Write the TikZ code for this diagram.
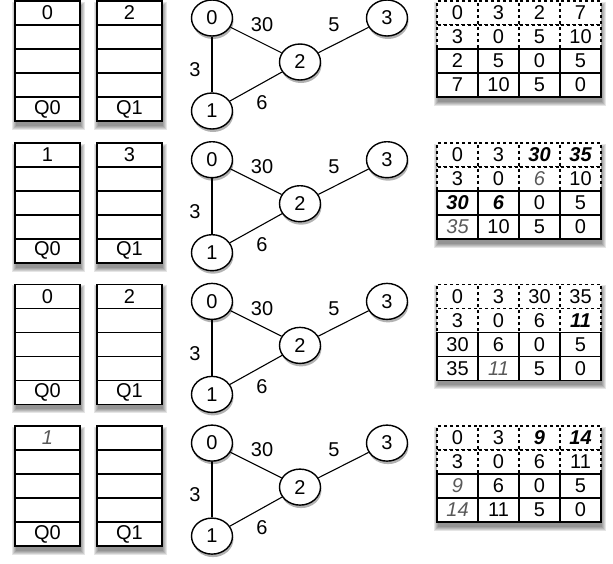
\documentclass[tikz,border=0pt]{standalone}
\usepackage{fontspec}
\setmainfont{Liberation Sans}
\usetikzlibrary{shapes.geometric,shadows}
\tikzset{
  x=1pt, y=-1pt,
  txt/.style={font=\fontsize{20pt}{20pt}\selectfont, inner sep=0pt},
  qcell/.style={txt, draw, line width=1.6pt, fill=white, minimum width=65pt, minimum height=24pt},
  mcell/.style={txt, draw, line width=1.6pt, fill=white, minimum width=41pt, minimum height=24pt},
  dcell/.style={mcell, dash pattern=on 3pt off 3pt},
  gnode/.style={txt, ellipse, draw, line width=1.4pt, fill=white, minimum width=41pt, minimum height=36pt,
    drop shadow={shadow xshift=1pt, shadow yshift=-3pt, fill=black, opacity=0.3}},
  edge/.style={line width=1.1pt},
  wl/.style={txt},
}
\newcommand\bi[1]{{\bfseries\itshape #1}}
\newcommand\gi[1]{{\color{black!65}\itshape #1}}
\newcommand\softshadow[4]{%
  \foreach \s in {0,1,2,3,4}{\fill[black,opacity=0.1] (#1-\s+1,#2-\s+5) rectangle (#3+\s+1,#4+\s+5);}}
\newcommand\mrow[8]{%
  \node[#4] (#1r#2c1) at (457.5,#3) {#5};
  \node[#4] (#1r#2c2) at (498.5,#3) {#6};
  \node[#4] (#1r#2c3) at (539.5,#3) {#7};
  \node[#4] (#1r#2c4) at (580.5,#3) {#8};}
\newcommand\queues[3]{%
  \softshadow{15}{1}{80}{121}
  \softshadow{97}{1}{162}{121}
  \node[qcell] (#1qa1) at (47.5,13) {#2};
  \node[qcell] (#1qa2) at (47.5,37) {};
  \node[qcell] (#1qa3) at (47.5,61) {};
  \node[qcell] (#1qa4) at (47.5,85) {};
  \node[qcell] (#1qa5) at (47.5,109) {Q0};
  \node[qcell] (#1qb1) at (129.5,13) {#3};
  \node[qcell] (#1qb2) at (129.5,37) {};
  \node[qcell] (#1qb3) at (129.5,61) {};
  \node[qcell] (#1qb4) at (129.5,85) {};
  \node[qcell] (#1qb5) at (129.5,109) {Q1};}
\newcommand\graphpanel[1]{%
  \node[gnode] (#1a) at (212,18) {0};
  \node[gnode] (#1b) at (212,111) {1};
  \node[gnode] (#1c) at (300,62) {2};
  \node[gnode] (#1d) at (387,18) {3};
  \draw[edge] (#1a) -- (#1b);
  \draw[edge] (#1a) -- (#1c);
  \draw[edge] (#1b) -- (#1c);
  \draw[edge] (#1c) -- (#1d);
  \node[wl] (#1w1) at (262,25) {30};
  \node[wl] (#1w2) at (334,25) {5};
  \node[wl] (#1w3) at (195,70) {3};
  \node[wl] (#1w4) at (262,103) {6};}
\begin{document}
\begin{tikzpicture}
\useasboundingbox[fill=white] (0,0) rectangle (613,563);
% panel 1
\begin{scope}[shift={(0,0)}]
  \queues{pa}{0}{2}
  \graphpanel{pa}
  \softshadow{437}{1}{601}{97}
  \mrow{pa}{1}{13}{dcell}{0}{3}{2}{7}
  \mrow{pa}{2}{37}{dcell}{3}{0}{5}{10}
  \mrow{pa}{3}{61}{mcell}{2}{5}{0}{5}
  \mrow{pa}{4}{85}{mcell}{7}{10}{5}{0}
\end{scope}
% panel 2
\begin{scope}[shift={(0,141.7)}]
  \queues{pb}{1}{3}
  \graphpanel{pb}
  \softshadow{437}{1}{601}{97}
  \mrow{pb}{1}{13}{dcell}{0}{3}{\bi{30}}{\bi{35}}
  \mrow{pb}{2}{37}{dcell}{3}{0}{\gi{6}}{10}
  \mrow{pb}{3}{61}{mcell}{\bi{30}}{\bi{6}}{0}{5}
  \mrow{pb}{4}{85}{mcell}{\gi{35}}{10}{5}{0}
\end{scope}
% panel 3
\begin{scope}[shift={(0,283.4)}]
  \queues{pc}{0}{2}
  \graphpanel{pc}
  \softshadow{437}{1}{601}{97}
  \mrow{pc}{1}{13}{dcell}{0}{3}{30}{35}
  \mrow{pc}{2}{37}{dcell}{3}{0}{6}{\bi{11}}
  \mrow{pc}{3}{61}{mcell}{30}{6}{0}{5}
  \mrow{pc}{4}{85}{mcell}{35}{\gi{11}}{5}{0}
\end{scope}
% panel 4
\begin{scope}[shift={(0,425.1)}]
  \queues{pd}{\gi{1}}{}
  \graphpanel{pd}
  \softshadow{437}{1}{601}{97}
  \mrow{pd}{1}{13}{dcell}{0}{3}{\bi{9}}{\bi{14}}
  \mrow{pd}{2}{37}{dcell}{3}{0}{6}{11}
  \mrow{pd}{3}{61}{mcell}{\gi{9}}{6}{0}{5}
  \mrow{pd}{4}{85}{mcell}{\gi{14}}{11}{5}{0}
\end{scope}
\end{tikzpicture}
\end{document}
